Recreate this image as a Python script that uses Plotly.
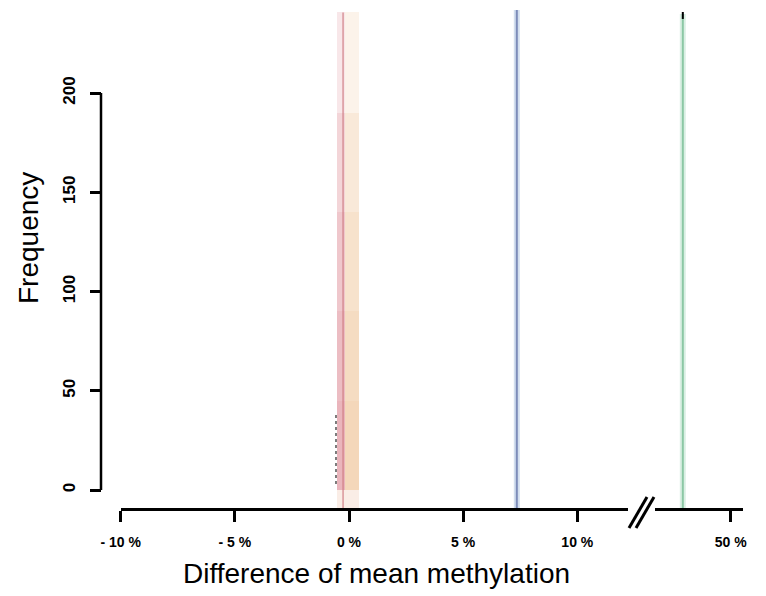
import plotly.graph_objects as go

# ---------------- data ----------------
x_ticks_left = [-10, -5, 0, 5, 10]
x_tick_labels_left = ["- 10 %", "- 5 %", "0 %", "5 %", "10 %"]
x_ticks_right = [50]
x_tick_labels_right = ["50 %"]
y_ticks = [0, 50, 100, 150, 200]
y_tick_labels = ["0", "50", "100", "150", "200"]

# overlaid permutation histograms (bin centre %, bin width %, counts of each layer)
perm_a_center = -0.35
perm_a_width = 0.36
perm_a_counts = [241, 190, 140, 90, 45]
perm_b_center = 0.12
perm_b_width = 0.62
perm_b_counts = [241, 190, 140, 90, 45]
perm_a_mode = [-0.26]
tail_x = [-0.57, -0.57]
tail_y = [3, 39]

observed_blue = [7.35]
observed_green = [47.9]

# ---------------- layout geometry ----------------
W, H = 766, 596
def px(x):
    return x / W
def py(y):
    return 1 - y / H

Y_TOP_PX, Y_BOT_PX = 10, 508
Y0_PX, Y200_PX = 490, 93
ppu = (Y0_PX - Y200_PX) / 200.0
y_range = [(Y0_PX - Y_BOT_PX) / ppu, (Y0_PX - Y_TOP_PX) / ppu]

FONT = "Liberation Sans, Arial, Helvetica, sans-serif"

fig = go.Figure()

# pale footprint of the columns below zero, down to the axis line
fig.add_trace(go.Bar(x=[perm_a_center, perm_b_center], y=[-y_range[0]] * 2,
                     base=[y_range[0]] * 2, width=[perm_a_width, perm_b_width],
                     marker=dict(color="rgba(245,215,200,0.45)", line=dict(width=0)),
                     xaxis="x", yaxis="y", showlegend=False, hoverinfo="skip"))
fig.add_trace(go.Bar(x=[perm_a_center] * len(perm_a_counts), y=perm_a_counts,
                     width=[perm_a_width] * len(perm_a_counts),
                     marker=dict(color="rgba(228,160,168,0.25)", line=dict(width=0)),
                     xaxis="x", yaxis="y", showlegend=False))
fig.add_trace(go.Bar(x=[perm_b_center] * len(perm_b_counts), y=perm_b_counts,
                     width=[perm_b_width] * len(perm_b_counts),
                     marker=dict(color="rgba(242,200,160,0.22)", line=dict(width=0)),
                     xaxis="x", yaxis="y", showlegend=False))
fig.add_trace(go.Scatter(x=tail_x, y=tail_y, mode="lines",
                         line=dict(color="rgba(40,40,40,0.8)", width=1.5, dash="dot"),
                         xaxis="x", yaxis="y", showlegend=False))

shapes = []
for v in perm_a_mode:
    shapes.append(dict(type="line", xref="x", yref="y domain", x0=v, x1=v, y0=0.0, y1=0.995,
                       line=dict(color="rgba(205,120,128,0.75)", width=1.5), layer="above"))
for v in observed_blue:
    shapes.append(dict(type="line", xref="x", yref="y domain", x0=v, x1=v, y0=0, y1=1,
                       line=dict(color="rgba(205,218,236,0.9)", width=6), layer="above"))
    shapes.append(dict(type="line", xref="x", yref="y domain", x0=v, x1=v, y0=0, y1=1,
                       line=dict(color="rgb(125,140,185)", width=2), layer="above"))
for v in observed_green:
    shapes.append(dict(type="line", xref="x2", yref="y domain", x0=v, x1=v, y0=0, y1=0.992,
                       line=dict(color="rgba(215,237,225,0.9)", width=6), layer="above"))
    shapes.append(dict(type="line", xref="x2", yref="y domain", x0=v, x1=v, y0=0, y1=0.992,
                       line=dict(color="rgb(140,200,165)", width=2), layer="above"))
    shapes.append(dict(type="line", xref="x2", yref="y domain", x0=v, x1=v, y0=0.982, y1=0.996,
                       line=dict(color="black", width=2), layer="above"))

# y axis line (R style, from 0 to 200 only)
shapes.append(dict(type="line", xref="paper", yref="y", x0=px(101), x1=px(101),
                   y0=y_ticks[0], y1=y_ticks[-1], line=dict(color="black", width=2.5)))
# axis break marks
shapes.append(dict(type="line", xref="paper", yref="paper", x0=px(629), y0=py(528),
                   x1=px(647), y1=py(497), line=dict(color="black", width=3)))
shapes.append(dict(type="line", xref="paper", yref="paper", x0=px(636), y0=py(528),
                   x1=px(654), y1=py(497), line=dict(color="black", width=3)))

ax_common = dict(showgrid=False, zeroline=False, showline=True, linecolor="black",
                 linewidth=2.5, ticks="outside", ticklen=11, tickwidth=2.5,
                 tickcolor="black", tickfont=dict(family=FONT, size=14, color="black",
                                                  weight="bold"),
                 ticklabelstandoff=8,
                 anchor="y", fixedrange=True, automargin=False)

fig.update_layout(
    template="none",
    width=W, height=H,
    margin=dict(l=0, r=0, t=0, b=0, pad=0, autoexpand=False),
    paper_bgcolor="white", plot_bgcolor="white",
    barmode="overlay", bargap=0,
    showlegend=False,
    xaxis=dict(domain=[px(120.7), px(628)], range=[-10, 12.22],
               tickvals=x_ticks_left, ticktext=x_tick_labels_left, **ax_common),
    xaxis2=dict(domain=[px(655), px(743)], range=[46.68, 50.54],
                tickvals=x_ticks_right, ticktext=x_tick_labels_right, **ax_common),
    yaxis=dict(domain=[py(Y_BOT_PX), py(Y_TOP_PX)], range=y_range,
               anchor="free", position=px(101), showline=False, showgrid=False,
               zeroline=False, ticks="outside", ticklen=11, tickwidth=2.5,
               tickcolor="black", tickvals=y_ticks, ticktext=y_tick_labels,
               tickangle=-90, ticklabelstandoff=8,
               tickfont=dict(family=FONT, size=17, color="black", weight="bold"),
               fixedrange=True, automargin=False),
    shapes=shapes,
    annotations=[
        dict(text="Frequency", xref="paper", yref="paper", x=px(28), y=py(238),
             textangle=-90, showarrow=False, xanchor="center", yanchor="middle",
             font=dict(family=FONT, size=28, color="black")),
        dict(text="Difference of mean methylation", xref="paper", yref="paper",
             x=px(376), y=py(573), showarrow=False, xanchor="center", yanchor="middle",
             font=dict(family=FONT, size=28, color="black")),
    ],
)

fig.write_html(
    "out.html",
    config={"displayModeBar": False},
    post_script="document.body.style.margin='0';document.body.style.padding='0';"
                "document.documentElement.style.overflow='hidden';",
)
